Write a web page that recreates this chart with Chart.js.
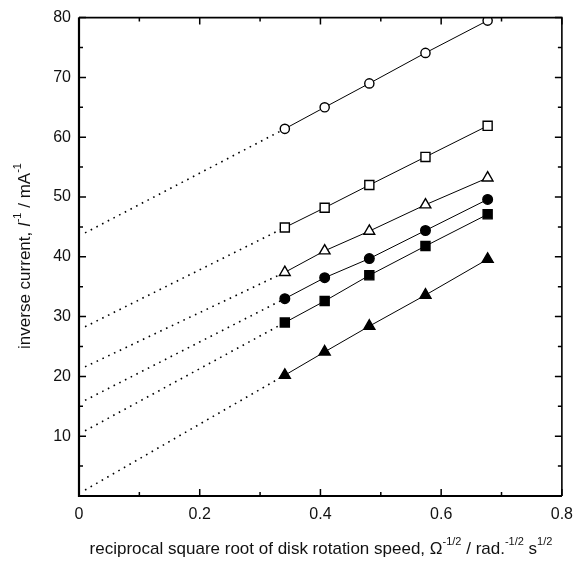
<!DOCTYPE html>
<html>
<head>
<meta charset="utf-8">
<script src="https://cdn.jsdelivr.net/npm/chart.js@4"></script>
<style>
  html, body { margin: 0; padding: 0; background: #fff; }
  #wrap { width: 582px; height: 563px; }
</style>
</head>
<body>
<div id="wrap"><canvas id="chart" width="582" height="563"></canvas></div>
<script>
// x values: reciprocal square root of rotation speed
const xValues = [0.341, 0.407, 0.481, 0.574, 0.677];

// inverse current series, one per marker style
const openCircles    = [61.4, 65.0, 69.0, 74.1, 79.5];
const openSquares    = [44.9, 48.2, 52.0, 56.7, 61.9];
const openTriangles  = [37.4, 41.0, 44.3, 48.7, 53.2];
const filledCircles  = [33.0, 36.5, 39.7, 44.4, 49.6];
const filledSquares  = [29.0, 32.6, 36.9, 41.8, 47.1];
const filledTriangles = [20.2, 24.1, 28.4, 33.6, 39.6];

// dotted extrapolation start (x ~ 0) for each series
const extrapStartX = 0.01;
const extrapStartY = [44.0, 28.3, 21.6, 16.0, 10.9, 1.0];

const xTickLabels = [0, 0.2, 0.4, 0.6, 0.8];
const yTickLabels = [10, 20, 30, 40, 50, 60, 70, 80];

const FONT = '"Liberation Sans", Arial, sans-serif';

const seriesDefs = [
  { data: openCircles,    style: 'circle',   filled: false, r: 4.6 },
  { data: openSquares,    style: 'rect',     filled: false, r: 6.4 },
  { data: openTriangles,  style: 'triangle', filled: false, r: 6.2 },
  { data: filledCircles,  style: 'circle',   filled: true,  r: 4.8 },
  { data: filledSquares,  style: 'rect',     filled: true,  r: 6.4 },
  { data: filledTriangles, style: 'triangle', filled: true, r: 6.4 },
];

const datasets = [];
seriesDefs.forEach((s, i) => {
  datasets.push({
    data: [{ x: extrapStartX, y: extrapStartY[i] }, { x: xValues[0], y: s.data[0] }],
    showLine: true,
    borderColor: '#000',
    borderWidth: 1.6,
    borderDash: [1.6, 4.8],
    pointRadius: 0,
    order: 2,
  });
  datasets.push({
    data: xValues.map((x, k) => ({ x, y: s.data[k] })),
    showLine: true,
    borderColor: '#000',
    borderWidth: 1,
    pointStyle: s.style,
    pointRadius: s.r,
    pointBackgroundColor: s.filled ? '#000' : '#fff',
    pointBorderColor: '#000',
    pointBorderWidth: 1.4,
    order: 1,
  });
});

// draws text made of segments, some superscript / italic, centred on (0,0)
function drawRich(ctx, segs, size) {
  const supSize = Math.round(size * 0.66);
  const fontFor = s => (s.italic ? 'italic ' : '') + (s.sup ? supSize : size) + 'px ' + FONT;
  let total = 0;
  segs.forEach(s => { ctx.font = fontFor(s); total += ctx.measureText(s.t).width; });
  let x = -total / 2;
  ctx.textBaseline = 'middle';
  ctx.textAlign = 'left';
  segs.forEach(s => {
    ctx.font = fontFor(s);
    ctx.fillText(s.t, x, s.sup ? -size * 0.42 : 0);
    x += ctx.measureText(s.t).width;
  });
}

const frameAndTitles = {
  id: 'frameAndTitles',
  afterDraw(chart) {
    const { ctx, chartArea: a, scales: { x, y } } = chart;
    ctx.save();
    ctx.strokeStyle = '#000';
    ctx.fillStyle = '#111';

    // frame
    ctx.lineWidth = 2.2;
    ctx.beginPath();
    ctx.moveTo(a.left, a.top);
    ctx.lineTo(a.left, a.bottom);
    ctx.lineTo(a.right, a.bottom);
    ctx.stroke();
    ctx.lineWidth = 1.6;
    ctx.beginPath();
    ctx.moveTo(a.left, a.top);
    ctx.lineTo(a.right, a.top);
    ctx.lineTo(a.right, a.bottom);
    ctx.stroke();

    // inward ticks on all four sides
    ctx.lineWidth = 1.5;
    for (let k = 0; k <= 8; k++) {
      const px = x.getPixelForValue(k / 10);
      const len = k % 2 === 0 ? 7 : 4;
      ctx.beginPath();
      ctx.moveTo(px, a.bottom); ctx.lineTo(px, a.bottom - len);
      ctx.moveTo(px, a.top); ctx.lineTo(px, a.top + len);
      ctx.stroke();
    }
    for (let v = 0; v <= 80; v += 5) {
      const py = y.getPixelForValue(v);
      const len = v % 10 === 0 ? 7 : 4;
      ctx.beginPath();
      ctx.moveTo(a.left, py); ctx.lineTo(a.left + len, py);
      ctx.moveTo(a.right, py); ctx.lineTo(a.right - len, py);
      ctx.stroke();
    }

    // axis titles
    ctx.save();
    ctx.translate(321, 549);
    drawRich(ctx, [
      { t: 'reciprocal square root of disk rotation speed, \u03A9' },
      { t: '-1/2', sup: true },
      { t: ' / rad.' },
      { t: '-1/2', sup: true },
      { t: ' s' },
      { t: '1/2', sup: true },
    ], 17);
    ctx.restore();

    ctx.save();
    ctx.translate(25, 256);
    ctx.rotate(-Math.PI / 2);
    drawRich(ctx, [
      { t: 'inverse current, ' },
      { t: 'I', italic: true },
      { t: '-1', sup: true },
      { t: ' / mA' },
      { t: '-1', sup: true },
    ], 17);
    ctx.restore();

    ctx.restore();
  }
};

new Chart(document.getElementById('chart'), {
  type: 'scatter',
  data: { datasets },
  options: {
    responsive: false,
    animation: false,
    layout: { padding: { left: 0, top: 13, right: 17, bottom: 0 } },
    plugins: { legend: { display: false }, tooltip: { enabled: false } },
    scales: {
      x: {
        type: 'linear', min: 0, max: 0.8,
        afterFit: s => { s.height = 67; },
        afterBuildTicks: s => { s.ticks = xTickLabels.map(v => ({ value: v })); },
        grid: { display: false, drawTicks: false },
        border: { display: false },
        ticks: {
          padding: 9, color: '#111',
          font: { family: FONT, size: 16 },
          callback: v => v === 0 ? '0' : v.toFixed(1),
        },
      },
      y: {
        type: 'linear', min: 0, max: 80,
        afterFit: s => { s.width = 79; },
        afterBuildTicks: s => { s.ticks = yTickLabels.map(v => ({ value: v })); },
        grid: { display: false, drawTicks: false },
        border: { display: false },
        ticks: {
          padding: 8, color: '#111',
          font: { family: FONT, size: 16 },
          callback: v => String(v),
        },
      },
    },
  },
  plugins: [frameAndTitles],
});
</script>
</body>
</html>
